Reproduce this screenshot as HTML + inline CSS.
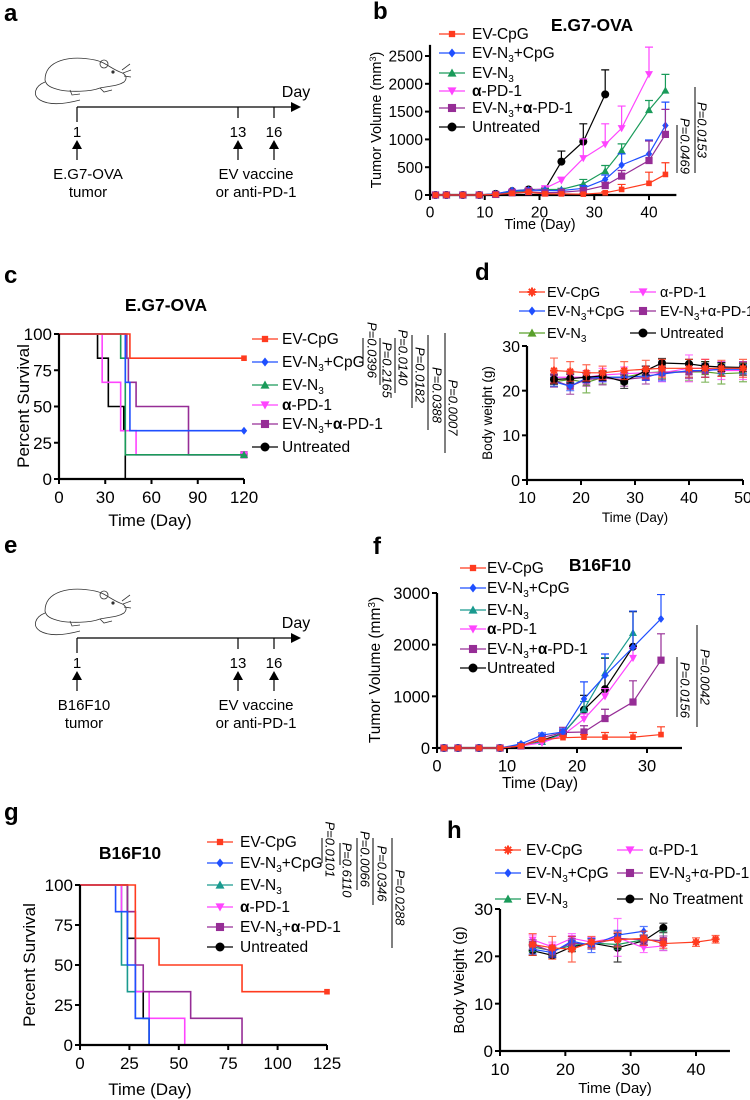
<!DOCTYPE html>
<html><head><meta charset="utf-8">
<style>
html,body{margin:0;padding:0;background:#fff;}
svg{display:block;font-family:"Liberation Sans",Arial,sans-serif;}
</style></head>
<body>
<svg id="figure" width="750" height="1100" viewBox="0 0 750 1100" xmlns="http://www.w3.org/2000/svg">
  <g font-weight="bold" font-size="24" fill="#000">
    <text x="4" y="21">a</text>
    <text x="373" y="19">b</text>
    <text x="4" y="283">c</text>
    <text x="475" y="280">d</text>
    <text x="4" y="553">e</text>
    <text x="373" y="554">f</text>
    <text x="4" y="820">g</text>
    <text x="447" y="838">h</text>
  </g>
  <g id="schemA">
    <g fill="none" stroke="#333" stroke-width="0.8">
      <path d="M45,80 C45,60 70,55 95,60 C105,62 110,68 120,72 C126,74 128,78 124,82 C118,86 110,86 100,88 C90,92 70,92 60,90 C52,88 46,86 45,80 Z"/>
      <circle cx="104" cy="64" r="4"/><circle cx="113" cy="72" r="1.2" fill="#333"/>
      <path d="M45,82 C35,86 32,95 40,100 C50,106 65,104 80,100"/>
      <path d="M70,90 L72,95 L80,94"/><path d="M100,88 L104,92 L112,90"/>
      <path d="M122,70 L130,64 M123,73 L131,70 M124,76 L131,77"/>
    </g>
    <line x1="77" y1="107" x2="293" y2="107" stroke="#000" stroke-width="1.2"/>
    <path d="M291,102 L301,107 L291,112 Z" fill="#000"/>
    <text x="296" y="97" font-size="16" text-anchor="middle">Day</text>
    <line x1="77" y1="107" x2="77" y2="122" stroke="#000" stroke-width="1.2"/>
    <line x1="238" y1="107" x2="238" y2="118" stroke="#000" stroke-width="1.2"/>
    <line x1="274" y1="107" x2="274" y2="118" stroke="#000" stroke-width="1.2"/>
    <text x="77" y="137" font-size="15" text-anchor="middle">1</text>
    <text x="238" y="137" font-size="15" text-anchor="middle">13</text>
    <text x="274" y="137" font-size="15" text-anchor="middle">16</text>
    <g stroke="#000" stroke-width="1.2">
      <line x1="77" y1="160" x2="77" y2="146"/><line x1="238" y1="160" x2="238" y2="146"/><line x1="274" y1="160" x2="274" y2="146"/>
    </g>
    <path d="M72,149 L77,140 L82,149 Z M233,149 L238,140 L243,149 Z M269,149 L274,140 L279,149 Z" fill="#000"/>
    <text x="88" y="179" font-size="15" text-anchor="middle">E.G7-OVA</text>
    <text x="88" y="197" font-size="15" text-anchor="middle">tumor</text>
    <text x="256" y="179" font-size="15" text-anchor="middle">EV vaccine</text>
    <text x="256" y="197" font-size="15" text-anchor="middle">or anti-PD-1</text>
  </g>
  <g id="schemE" transform="translate(0,531)">
    <g fill="none" stroke="#333" stroke-width="0.8">
      <path d="M45,80 C45,60 70,55 95,60 C105,62 110,68 120,72 C126,74 128,78 124,82 C118,86 110,86 100,88 C90,92 70,92 60,90 C52,88 46,86 45,80 Z"/>
      <circle cx="104" cy="64" r="4"/><circle cx="113" cy="72" r="1.2" fill="#333"/>
      <path d="M45,82 C35,86 32,95 40,100 C50,106 65,104 80,100"/>
      <path d="M70,90 L72,95 L80,94"/><path d="M100,88 L104,92 L112,90"/>
      <path d="M122,70 L130,64 M123,73 L131,70 M124,76 L131,77"/>
    </g>
    <line x1="77" y1="107" x2="293" y2="107" stroke="#000" stroke-width="1.2"/>
    <path d="M291,102 L301,107 L291,112 Z" fill="#000"/>
    <text x="296" y="97" font-size="16" text-anchor="middle">Day</text>
    <line x1="77" y1="107" x2="77" y2="122" stroke="#000" stroke-width="1.2"/>
    <line x1="238" y1="107" x2="238" y2="118" stroke="#000" stroke-width="1.2"/>
    <line x1="274" y1="107" x2="274" y2="118" stroke="#000" stroke-width="1.2"/>
    <text x="77" y="137" font-size="15" text-anchor="middle">1</text>
    <text x="238" y="137" font-size="15" text-anchor="middle">13</text>
    <text x="274" y="137" font-size="15" text-anchor="middle">16</text>
    <g stroke="#000" stroke-width="1.2">
      <line x1="77" y1="160" x2="77" y2="146"/><line x1="238" y1="160" x2="238" y2="146"/><line x1="274" y1="160" x2="274" y2="146"/>
    </g>
    <path d="M72,149 L77,140 L82,149 Z M233,149 L238,140 L243,149 Z M269,149 L274,140 L279,149 Z" fill="#000"/>
    <text x="84" y="179" font-size="15" text-anchor="middle">B16F10</text>
    <text x="84" y="197" font-size="15" text-anchor="middle">tumor</text>
    <text x="256" y="179" font-size="15" text-anchor="middle">EV vaccine</text>
    <text x="256" y="197" font-size="15" text-anchor="middle">or anti-PD-1</text>
  </g>
</svg>
<script>
// ---------- Panel b data (E.G7-OVA tumor volume) ----------
const bDays = [1,3,6,9,12,15,18,21,24,28,32,35,40,43];
const bCpG = [0,0,0,0,10,30,50,20,20,15,40,100,210,370];
const bCpGErr = [0,0,0,0,5,5,10,10,10,10,20,90,200,210];
const bN3CpG = [0,0,0,0,20,80,90,80,80,120,280,540,740,1250];
const bN3CpGErr = [0,0,0,0,5,10,10,10,10,50,80,200,250,420];
const bN3 = [0,0,0,0,15,60,80,100,100,200,430,800,1530,1880];
const bN3Err = [0,0,0,0,5,10,20,20,20,80,100,120,170,290];
const bPD1 = [0,0,0,0,15,60,80,120,260,660,910,1200,2170];
const bPD1Err = [0,0,0,0,5,10,20,20,60,350,370,400,490];
const bN3PD1 = [0,0,0,0,10,40,60,40,50,80,170,340,620,1090];
const bN3PD1Err = [0,0,0,0,5,10,10,10,10,30,60,100,350,450];
const bUntr = [0,0,0,0,20,70,100,100,600,960,1810];
const bUntrErr = [0,0,0,0,5,10,20,20,190,320,440];
const bXTicks = [0,10,20,30,40];
const bYTicks = [0,500,1000,1500,2000,2500];

// ---------- Panel c data (E.G7-OVA survival) ----------
const cCpGT = [0,46,120];        const cCpGS = [100,83.3,83.3];
const cN3CpGT = [0,43,46,120];   const cN3CpGS = [100,66.7,33.3,33.3];
const cN3T = [0,40,43,120];      const cN3S = [100,83.3,16.7,16.7];
const cPD1T = [0,28,40,50,120];  const cPD1S = [100,66.7,33.3,16.7,16.7];
const cN3PD1T = [0,44,45,50,84,120]; const cN3PD1S = [100,83.3,66.7,50,16.7,16.7];
const cUntrT = [0,25,32,42,43];  const cUntrS = [100,83.3,50,33.3,0];
const cXTicks = [0,30,60,90,120];
const cYTicks = [0,25,50,75,100];

// ---------- Panel d data (body weight) ----------
const dDays = [15,18,21,24,28,32,35,40,43,46,50];
const dCpG = [24.5,24.3,24,24,24.5,24.8,25,25,25,25,25];
const dCpGErr = [2.8,2.2,1.8,1.5,2.0,2.0,2.0,2.0,2.0,1.8,2.0];
const dN3CpG = [22,21,22.8,23,23,23.3,23.7,24.5,24.5,24.8,24.8];
const dN3CpGErr = [1,1,1,1,1,1,1.5,1.5,1.5,1,1];
const dN3 = [22,22.5,21.8,23,23,24,24.2,24.2,24.2,23.8,24];
const dN3Err = [1,1.5,2.3,1.5,1.5,1.5,1.5,2,2.3,2.3,2];
const dPD1 = [23,23,23,23.5,23.8,24,24,25,25,24.5,24.5];
const dPD1Err = [1.5,1.5,1.5,1.5,1.5,1.5,2,3,2,2,2];
const dN3PD1 = [22.3,21,22.5,22.8,22.5,23,24,24.2,24.5,24.8,25];
const dN3PD1Err = [1.5,1.8,1.5,1.5,1.5,1.5,1.5,1.5,1.5,1.5,1.5];
const dUntr = [22.5,22.7,23,23.3,22,24.5,26.2,26,25.5,25.3,25.2];
const dUntrErr = [1,1,1,1,1.5,1,1,1,1,1,1];
const dXTicks = [10,20,30,40,50];
const dYTicks = [0,10,20,30];

// ---------- Panel f data (B16F10 tumor volume) ----------
const fDays = [1,3,6,9,12,15,18,21,24,28,32];
const fCpG = [0,0,0,0,40,160,200,210,210,210,260];
const fCpGErr = [0,0,0,0,10,20,30,50,90,90,150];
const fN3CpG = [0,0,0,0,80,250,310,950,1400,1950,2500];
const fN3CpGErr = [0,0,0,0,20,40,60,330,420,700,470];
const fN3 = [0,0,0,0,50,120,280,750,1450,2230];
const fN3Err = [0,0,0,0,20,40,60,150,300,420];
const fPD1 = [0,0,0,0,40,100,250,560,1000,1740];
const fPD1Err = [0,0,0,0,20,30,60,100,150,200];
const fN3PD1 = [0,0,0,0,40,200,300,310,570,890,1700];
const fN3PD1Err = [0,0,0,0,20,40,100,120,180,410,510];
const fUntr = [0,0,0,0,50,150,280,740,1140,1960];
const fUntrErr = [0,0,0,0,20,30,50,280,600,680];
const fXTicks = [0,10,20,30];
const fYTicks = [0,1000,2000,3000];

// ---------- Panel g data (B16F10 survival) ----------
const gCpGT = [0,28,40,82,125];       const gCpGS = [100,66.7,50,33.3,33.3];
const gN3CpGT = [0,18,24,28,35];      const gN3CpGS = [100,83.3,50,16.7,0];
const gN3T = [0,21,24,28,35];         const gN3S = [100,50,33.3,16.7,0];
const gPD1T = [0,21,28,35,53];        const gPD1S = [100,83.3,33.3,16.7,0];
const gN3PD1T = [0,24,28,32,56,82];   const gN3PD1S = [100,83.3,50,33.3,16.7,0];
const gUntrT = [0,24,28,32,35];       const gUntrS = [100,66.7,33.3,16.7,0];
const gXTicks = [0,25,50,75,100,125];
const gYTicks = [0,25,50,75,100];

// ---------- Panel h data (body weight) ----------
const hDays = [15,18,21,24,28,32,35,40,43];
const hCpG = [22.5,21.8,21.5,23,23.5,23.8,22.7,23,23.6];
const hCpGErr = [2.3,2.4,2.7,1.2,1.5,1.5,1,0.9,0.8];
const hN3CpG = [21.5,20.8,23.2,22.3,24.5,25.3];
const hN3CpGErr = [1,1,1,1.5,1,1];
const hN3 = [22,21.2,22.3,22.8,22.5,23.5,23.3];
const hN3Err = [1,1,1,1,1,1,2];
const hPD1 = [23.5,22,23.8,23,24,21.8,22.2];
const hPD1Err = [1,1,1,1,4,1,1];
const hN3PD1 = [22.5,21,22.8,22.5,23.8,23.5,23.3];
const hN3PD1Err = [1,1,1,1,1.5,1,1];
const hNoTr = [21.2,20.2,22,22.8,21.8,23.3,26];
const hNoTrErr = [1,0.5,1,1,3,1,1];
const hXTicks = [10,20,30,40];
const hYTicks = [0,10,20,30];

// ---------- helpers ----------
const NS = 'http://www.w3.org/2000/svg';
const svg = document.getElementById('figure');
function mk(tag, attrs, parent) {
  const e = document.createElementNS(NS, tag);
  for (const k in attrs) e.setAttribute(k, attrs[k]);
  (parent || svg).appendChild(e);
  return e;
}
function lin(d0, d1, r0, r1) { return v => r0 + (v - d0) * (r1 - r0) / (d1 - d0); }

const RED = '#ff3b1f', BLUE = '#1f4fff', GREEN = '#1a9b5a', TEAL = '#1a9a8f', OLIVE = '#5aa02c',
      MAG = '#ff44ff', PURP = '#962d96', BLACK = '#000';

function marker(g, type, x, y, color, s) {
  s = s || 4;
  let m;
  if (type === 'circ') m = mk('circle', {cx: x, cy: y, r: s, fill: color}, g);
  else if (type === 'sq') m = mk('rect', {x: x - s * 0.9, y: y - s * 0.9, width: s * 1.8, height: s * 1.8, fill: color}, g);
  else if (type === 'dia') m = mk('path', {d: `M${x},${y - s}L${x + s * 0.8},${y}L${x},${y + s}L${x - s * 0.8},${y}Z`, fill: color}, g);
  else if (type === 'tri') m = mk('path', {d: `M${x},${y - s}L${x + s},${y + s * 0.8}L${x - s},${y + s * 0.8}Z`, fill: color}, g);
  else if (type === 'trid') m = mk('path', {d: `M${x},${y + s}L${x + s},${y - s * 0.8}L${x - s},${y - s * 0.8}Z`, fill: color}, g);
  else if (type === 'star') m = mk('path', {d: `M${x - s},${y}H${x + s}M${x},${y - s}V${y + s}M${x - s * 0.7},${y - s * 0.7}L${x + s * 0.7},${y + s * 0.7}M${x - s * 0.7},${y + s * 0.7}L${x + s * 0.7},${y - s * 0.7}`, stroke: color, 'stroke-width': 2, fill: 'none'}, g);
  else m = mk('rect', {x: x - s * 0.7, y: y - s * 0.7, width: s * 1.4, height: s * 1.4, fill: color}, g);
  return m;
}

const LBL = {
  cpg: 'EV-CpG',
  n3cpg: 'EV-N<tspan font-size="10" dy="4">3</tspan><tspan dy="-4">+CpG</tspan>',
  n3: 'EV-N<tspan font-size="10" dy="4">3</tspan>',
  pd1b: '<tspan font-weight="bold">α</tspan>-PD-1',
  n3pd1b: 'EV-N<tspan font-size="10" dy="4">3</tspan><tspan dy="-4">+</tspan><tspan font-weight="bold">α</tspan>-PD-1',
  pd1: 'α-PD-1',
  n3pd1: 'EV-N<tspan font-size="10" dy="4">3</tspan><tspan dy="-4">+α-PD-1</tspan>'
};

function legendEntry(g, mx, tx, y, color, type, html, name, fs) {
  const le = mk('g', {}, g);
  
  
  mk('line', {x1: mx - 13, y1: y, x2: mx + 13, y2: y, stroke: color, 'stroke-width': 1.3}, le);
  marker(le, type, mx, y, color, 4.5);
  const t = mk('text', {x: tx, y: y + 5, 'font-size': fs || 15.5, fill: '#000'}, le);
  t.innerHTML = html;
}

function axes(g, sx, sy, xTicks, yTicks, xEndV, yEndV, xLab, xLabPos, yLab, yLabPos, tfs, afs) {
  const x0 = sx(xTicks[0]), y0 = sy(yTicks[0]);
  const ax = mk('g', {}, g);
  
  
  mk('line', {x1: x0, y1: y0, x2: sx(xEndV), y2: y0, stroke: '#000', 'stroke-width': 2.2}, ax);
  mk('line', {x1: x0, y1: y0, x2: x0, y2: sy(yEndV), stroke: '#000', 'stroke-width': 2.2}, ax);
  xTicks.forEach(v => {
    mk('line', {x1: sx(v), y1: y0, x2: sx(v), y2: y0 + 5, stroke: '#000', 'stroke-width': 2}, ax);
    const t = mk('text', {x: sx(v), y: y0 + 7 + tfs, 'font-size': tfs, 'text-anchor': 'middle'}, ax);
    
    
    t.textContent = v;
  });
  yTicks.forEach(v => {
    mk('line', {x1: x0 - 5, y1: sy(v), x2: x0, y2: sy(v), stroke: '#000', 'stroke-width': 2}, ax);
    const t = mk('text', {x: x0 - 7, y: sy(v) + tfs * 0.36, 'font-size': tfs, 'text-anchor': 'end'}, ax);
    
    
    t.textContent = v;
  });
  const xt = mk('text', {x: xLabPos[0], y: xLabPos[1], 'font-size': afs, 'text-anchor': 'middle'}, ax);
  
  
  xt.textContent = xLab;
  const yt = mk('text', {x: 0, y: 0, 'font-size': afs, 'text-anchor': 'middle', transform: `translate(${yLabPos[0]},${yLabPos[1]}) rotate(-90)`}, ax);
  
  
  yt.innerHTML = yLab;
}

function lineSeries(g, sx, sy, days, vals, errs, color, type, name, both, msize) {
  const sg = mk('g', {}, g);
  
  
  vals.forEach((v, i) => {
    const x = sx(days[i]);
    const e = errs[i];
    if (e > 0) {
      const yt = sy(v + e), yb = both ? sy(v - e) : sy(v);
      mk('path', {d: `M${x},${yb}V${yt}M${x - 4},${yt}H${x + 4}` + (both ? `M${x - 4},${yb}H${x + 4}` : ''), stroke: color, 'stroke-width': 1.2, fill: 'none', opacity: both ? 0.75 : 1}, sg);
    }
  });
  let d = '';
  vals.forEach((v, i) => { d += (i ? 'L' : 'M') + sx(days[i]) + ',' + sy(v); });
  mk('path', {d: d, stroke: color, 'stroke-width': 1.2, fill: 'none'}, sg);
  vals.forEach((v, i) => {
    const pt = marker(sg, type, sx(days[i]), sy(v), color, msize || 4);
    
    
  });
}

function kmSeries(g, sx, sy, ts, ss, color, type, name, endMark) {
  const sg = mk('g', {}, g);
  
  
  let d = `M${sx(ts[0])},${sy(ss[0])}`;
  for (let i = 1; i < ts.length; i++) d += `H${sx(ts[i])}V${sy(ss[i])}`;
  mk('path', {d: d, stroke: color, 'stroke-width': 1.6, fill: 'none'}, sg);
  if (endMark) {
    const n = ts.length - 1;
    marker(sg, type, sx(ts[n]), sy(ss[n]), color, 4);
  }
}

function pval(g, lineX, y1, y2, textCx, yTop, yBot, label) {
  const pg = mk('g', {}, g);
  
  
  mk('line', {x1: lineX, y1: y1, x2: lineX, y2: y2, stroke: '#000', 'stroke-width': 1}, pg);
  const t = mk('text', {x: 0, y: 0, 'font-size': 13, 'font-style': 'italic', 'text-anchor': 'middle', transform: `translate(${textCx - 4.5},${(yTop + yBot) / 2}) rotate(90)`}, pg);
  t.innerHTML = 'P<tspan font-style="italic">=' + label + '</tspan>';
}

function title(g, x, y, txt) {
  const t = mk('text', {x: x, y: y, 'font-size': 17.5, 'font-weight': 'bold', 'text-anchor': 'middle'}, g);
  
  
  t.textContent = txt;
}

// ---------- Panel b ----------
(function () {
  const g = mk('g', {});
  
  
  const sx = lin(0, 40, 430, 649), sy = lin(0, 2500, 195, 56);
  axes(g, sx, sy, bXTicks, bYTicks, 45, 2700, 'Time (Day)', [540, 229], 'Tumor Volume (mm<tspan font-size="9" dy="-5">3</tspan><tspan dy="5">)</tspan>', [381, 120], 15.5, 14.5);
  title(g, 592, 31, 'E.G7-OVA');
  lineSeries(g, sx, sy, bDays, bUntr, bUntrErr, BLACK, 'circ', 'series-untreated');
  lineSeries(g, sx, sy, bDays, bPD1, bPD1Err, MAG, 'trid', 'series-anti-pd1');
  lineSeries(g, sx, sy, bDays, bN3, bN3Err, GREEN, 'tri', 'series-ev-n3');
  lineSeries(g, sx, sy, bDays, bN3CpG, bN3CpGErr, BLUE, 'dia', 'series-ev-n3-cpg');
  lineSeries(g, sx, sy, bDays, bN3PD1, bN3PD1Err, PURP, 'sq', 'series-ev-n3-anti-pd1');
  lineSeries(g, sx, sy, bDays, bCpG, bCpGErr, RED, 'sm', 'series-ev-cpg');
  const lg = mk('g', {}, g);
  
  
  const rows = [34, 53, 73, 91, 108, 127];
  legendEntry(lg, 452, 472, rows[0], RED, 'sm', LBL.cpg, 'legend-entry-ev-cpg');
  legendEntry(lg, 452, 472, rows[1], BLUE, 'dia', LBL.n3cpg, 'legend-entry-ev-n3-cpg');
  legendEntry(lg, 452, 472, rows[2], GREEN, 'tri', LBL.n3, 'legend-entry-ev-n3');
  legendEntry(lg, 452, 472, rows[3], MAG, 'trid', LBL.pd1b, 'legend-entry-anti-pd1');
  legendEntry(lg, 452, 472, rows[4], PURP, 'sq', LBL.n3pd1b, 'legend-entry-ev-n3-anti-pd1');
  legendEntry(lg, 452, 472, rows[5], BLACK, 'circ', 'Untreated', 'legend-entry-untreated');
  pval(g, 695, 87, 173, 702, 100, 160, '0.0153');
  pval(g, 677, 125, 173, 685, 115, 177, '0.0469');
})();

// ---------- Panel c ----------
(function () {
  const g = mk('g', {});
  
  
  const sx = lin(0, 120, 59, 244), sy = lin(0, 100, 479, 334);
  kmSeries(g, sx, sy, cUntrT, cUntrS, BLACK, 'circ', 'km-untreated', false);
  kmSeries(g, sx, sy, cN3PD1T, cN3PD1S, PURP, 'sq', 'km-ev-n3-anti-pd1', true);
  kmSeries(g, sx, sy, cPD1T, cPD1S, MAG, 'trid', 'km-anti-pd1', true);
  kmSeries(g, sx, sy, cN3T, cN3S, GREEN, 'tri', 'km-ev-n3', true);
  kmSeries(g, sx, sy, cN3CpGT, cN3CpGS, BLUE, 'dia', 'km-ev-n3-cpg', true);
  kmSeries(g, sx, sy, cCpGT, cCpGS, RED, 'sm', 'km-ev-cpg', true);
  axes(g, sx, sy, cXTicks, cYTicks, 120, 100, 'Time (Day)', [150, 526], 'Percent Survival', [29, 406], 17, 17);
  title(g, 166, 311, 'E.G7-OVA');
  const lg = mk('g', {}, g);
  
  
  const rows = [339, 362, 385, 405, 424, 447];
  legendEntry(lg, 265, 282, rows[0], RED, 'sm', LBL.cpg, 'legend-entry-ev-cpg');
  legendEntry(lg, 265, 282, rows[1], BLUE, 'dia', LBL.n3cpg, 'legend-entry-ev-n3-cpg');
  legendEntry(lg, 265, 282, rows[2], GREEN, 'tri', LBL.n3, 'legend-entry-ev-n3');
  legendEntry(lg, 265, 282, rows[3], MAG, 'trid', LBL.pd1b, 'legend-entry-anti-pd1');
  legendEntry(lg, 265, 282, rows[4], PURP, 'sq', LBL.n3pd1b, 'legend-entry-ev-n3-anti-pd1');
  legendEntry(lg, 265, 282, rows[5], BLACK, 'circ', 'Untreated', 'legend-entry-untreated');
  pval(g, 363, 338, 362, 372, 322, 378, '0.0396');
  pval(g, 380, 338, 385, 387, 342, 398, '0.2165');
  pval(g, 395, 338, 393, 403, 330, 385, '0.0140');
  pval(g, 412, 335, 408, 420, 345, 405, '0.0182');
  pval(g, 428, 335, 430, 437, 367, 423, '0.0388');
  pval(g, 445, 333, 453, 453, 378, 437, '0.0007');
})();

// ---------- Panel d ----------
(function () {
  const g = mk('g', {});
  
  
  const sx = lin(10, 50, 527, 743), sy = lin(0, 30, 480, 346);
  axes(g, sx, sy, dXTicks, dYTicks, 50, 30, 'Time (Day)', [635, 522], 'Body weight (g)', [492, 413], 16, 13.5);
  lineSeries(g, sx, sy, dDays, dN3, dN3Err, OLIVE, 'tri', 'series-ev-n3', true);
  lineSeries(g, sx, sy, dDays, dPD1, dPD1Err, MAG, 'trid', 'series-anti-pd1', true);
  lineSeries(g, sx, sy, dDays, dN3PD1, dN3PD1Err, PURP, 'sq', 'series-ev-n3-anti-pd1', true);
  lineSeries(g, sx, sy, dDays, dN3CpG, dN3CpGErr, BLUE, 'dia', 'series-ev-n3-cpg', true);
  lineSeries(g, sx, sy, dDays, dUntr, dUntrErr, BLACK, 'circ', 'series-untreated', true);
  lineSeries(g, sx, sy, dDays, dCpG, dCpGErr, RED, 'star', 'series-ev-cpg', true);
  const lg = mk('g', {}, g);
  
  
  legendEntry(lg, 532, 547, 292, RED, 'star', LBL.cpg, 'legend-entry-ev-cpg', 14.5);
  legendEntry(lg, 532, 547, 311, BLUE, 'dia', LBL.n3cpg, 'legend-entry-ev-n3-cpg', 14.5);
  legendEntry(lg, 532, 547, 333, OLIVE, 'tri', LBL.n3, 'legend-entry-ev-n3', 14.5);
  legendEntry(lg, 643, 660, 292, MAG, 'trid', LBL.pd1, 'legend-entry-anti-pd1', 14.5);
  legendEntry(lg, 643, 660, 311, PURP, 'sq', LBL.n3pd1, 'legend-entry-ev-n3-anti-pd1', 14.5);
  legendEntry(lg, 643, 660, 333, BLACK, 'circ', 'Untreated', 'legend-entry-untreated', 14.5);
})();

// ---------- Panel f ----------
(function () {
  const g = mk('g', {});
  
  
  const sx = lin(0, 30, 437, 647), sy = lin(0, 3000, 748, 593);
  axes(g, sx, sy, fXTicks, fYTicks, 35, 3000, 'Time (Day)', [540, 788], 'Tumor Volume (mm<tspan font-size="10" dy="-5">3</tspan><tspan dy="5">)</tspan>', [380, 670], 16.5, 15.5);
  title(g, 600, 571, 'B16F10');
  lineSeries(g, sx, sy, fDays, fUntr, fUntrErr, BLACK, 'circ', 'series-untreated');
  lineSeries(g, sx, sy, fDays, fN3, fN3Err, TEAL, 'tri', 'series-ev-n3');
  lineSeries(g, sx, sy, fDays, fPD1, fPD1Err, MAG, 'trid', 'series-anti-pd1');
  lineSeries(g, sx, sy, fDays, fN3PD1, fN3PD1Err, PURP, 'sq', 'series-ev-n3-anti-pd1');
  lineSeries(g, sx, sy, fDays, fN3CpG, fN3CpGErr, BLUE, 'dia', 'series-ev-n3-cpg');
  lineSeries(g, sx, sy, fDays, fCpG, fCpGErr, RED, 'sm', 'series-ev-cpg');
  const lg = mk('g', {}, g);
  
  
  const rows = [568, 588, 610, 629, 649, 668];
  legendEntry(lg, 473, 487, rows[0], RED, 'sm', LBL.cpg, 'legend-entry-ev-cpg');
  legendEntry(lg, 473, 487, rows[1], BLUE, 'dia', LBL.n3cpg, 'legend-entry-ev-n3-cpg');
  legendEntry(lg, 473, 487, rows[2], TEAL, 'tri', LBL.n3, 'legend-entry-ev-n3');
  legendEntry(lg, 473, 487, rows[3], MAG, 'trid', LBL.pd1b, 'legend-entry-anti-pd1');
  legendEntry(lg, 473, 487, rows[4], PURP, 'sq', LBL.n3pd1b, 'legend-entry-ev-n3-anti-pd1');
  legendEntry(lg, 473, 487, rows[5], BLACK, 'circ', 'Untreated', 'legend-entry-untreated');
  pval(g, 697, 625, 727, 705, 647, 707, '0.0042');
  pval(g, 677, 657, 717, 685, 660, 720, '0.0156');
})();

// ---------- Panel g ----------
(function () {
  const g = mk('g', {});
  
  
  const sx = lin(0, 125, 80, 327), sy = lin(0, 100, 1045, 885);
  kmSeries(g, sx, sy, gUntrT, gUntrS, BLACK, 'circ', 'km-untreated', false);
  kmSeries(g, sx, sy, gN3T, gN3S, TEAL, 'tri', 'km-ev-n3', false);
  kmSeries(g, sx, sy, gPD1T, gPD1S, MAG, 'trid', 'km-anti-pd1', false);
  kmSeries(g, sx, sy, gN3PD1T, gN3PD1S, PURP, 'sq', 'km-ev-n3-anti-pd1', false);
  kmSeries(g, sx, sy, gN3CpGT, gN3CpGS, BLUE, 'dia', 'km-ev-n3-cpg', false);
  kmSeries(g, sx, sy, gCpGT, gCpGS, RED, 'sm', 'km-ev-cpg', true);
  axes(g, sx, sy, gXTicks, gYTicks, 125, 100, 'Time (Day)', [150, 1095], 'Percent Survival', [35, 965], 17, 17);
  title(g, 130, 859, 'B16F10');
  const lg = mk('g', {}, g);
  
  
  const rows = [842, 863, 885, 907, 927, 947];
  legendEntry(lg, 220, 240, rows[0], RED, 'sm', LBL.cpg, 'legend-entry-ev-cpg');
  legendEntry(lg, 220, 240, rows[1], BLUE, 'dia', LBL.n3cpg, 'legend-entry-ev-n3-cpg');
  legendEntry(lg, 220, 240, rows[2], TEAL, 'tri', LBL.n3, 'legend-entry-ev-n3');
  legendEntry(lg, 220, 240, rows[3], MAG, 'trid', LBL.pd1b, 'legend-entry-anti-pd1');
  legendEntry(lg, 220, 240, rows[4], PURP, 'sq', LBL.n3pd1b, 'legend-entry-ev-n3-anti-pd1');
  legendEntry(lg, 220, 240, rows[5], BLACK, 'circ', 'Untreated', 'legend-entry-untreated');
  pval(g, 322, 838, 863, 330, 822, 877, '0.0101');
  pval(g, 340, 843, 865, 347, 843, 897, '0.6110');
  pval(g, 357, 838, 890, 365, 830, 888, '0.0066');
  pval(g, 373, 838, 905, 382, 845, 902, '0.0346');
  pval(g, 392, 838, 948, 400, 870, 925, '0.0288');
})();

// ---------- Panel h ----------
(function () {
  const g = mk('g', {});
  
  
  const sx = lin(10, 40, 500, 696), sy = lin(0, 30, 1051, 909);
  axes(g, sx, sy, hXTicks, hYTicks, 45.2, 30, 'Time (Day)', [615, 1093], 'Body Weight (g)', [464, 980], 17, 15);
  lineSeries(g, sx, sy, hDays, hNoTr, hNoTrErr, BLACK, 'circ', 'series-no-treatment', true);
  lineSeries(g, sx, sy, hDays, hN3, hN3Err, GREEN, 'tri', 'series-ev-n3', true);
  lineSeries(g, sx, sy, hDays, hPD1, hPD1Err, MAG, 'trid', 'series-anti-pd1', true);
  lineSeries(g, sx, sy, hDays, hN3PD1, hN3PD1Err, PURP, 'sq', 'series-ev-n3-anti-pd1', true);
  lineSeries(g, sx, sy, hDays, hN3CpG, hN3CpGErr, BLUE, 'dia', 'series-ev-n3-cpg', true);
  lineSeries(g, sx, sy, hDays, hCpG, hCpGErr, RED, 'star', 'series-ev-cpg', true);
  const lg = mk('g', {}, g);
  
  
  legendEntry(lg, 508, 526, 850, RED, 'star', LBL.cpg, 'legend-entry-ev-cpg');
  legendEntry(lg, 508, 526, 873, BLUE, 'dia', LBL.n3cpg, 'legend-entry-ev-n3-cpg');
  legendEntry(lg, 508, 526, 899, GREEN, 'tri', LBL.n3, 'legend-entry-ev-n3');
  legendEntry(lg, 630, 649, 850, MAG, 'trid', LBL.pd1, 'legend-entry-anti-pd1');
  legendEntry(lg, 630, 649, 873, PURP, 'sq', LBL.n3pd1, 'legend-entry-ev-n3-anti-pd1');
  legendEntry(lg, 630, 649, 899, BLACK, 'circ', 'No Treatment', 'legend-entry-no-treatment');
})();
</script>
</body></html>
